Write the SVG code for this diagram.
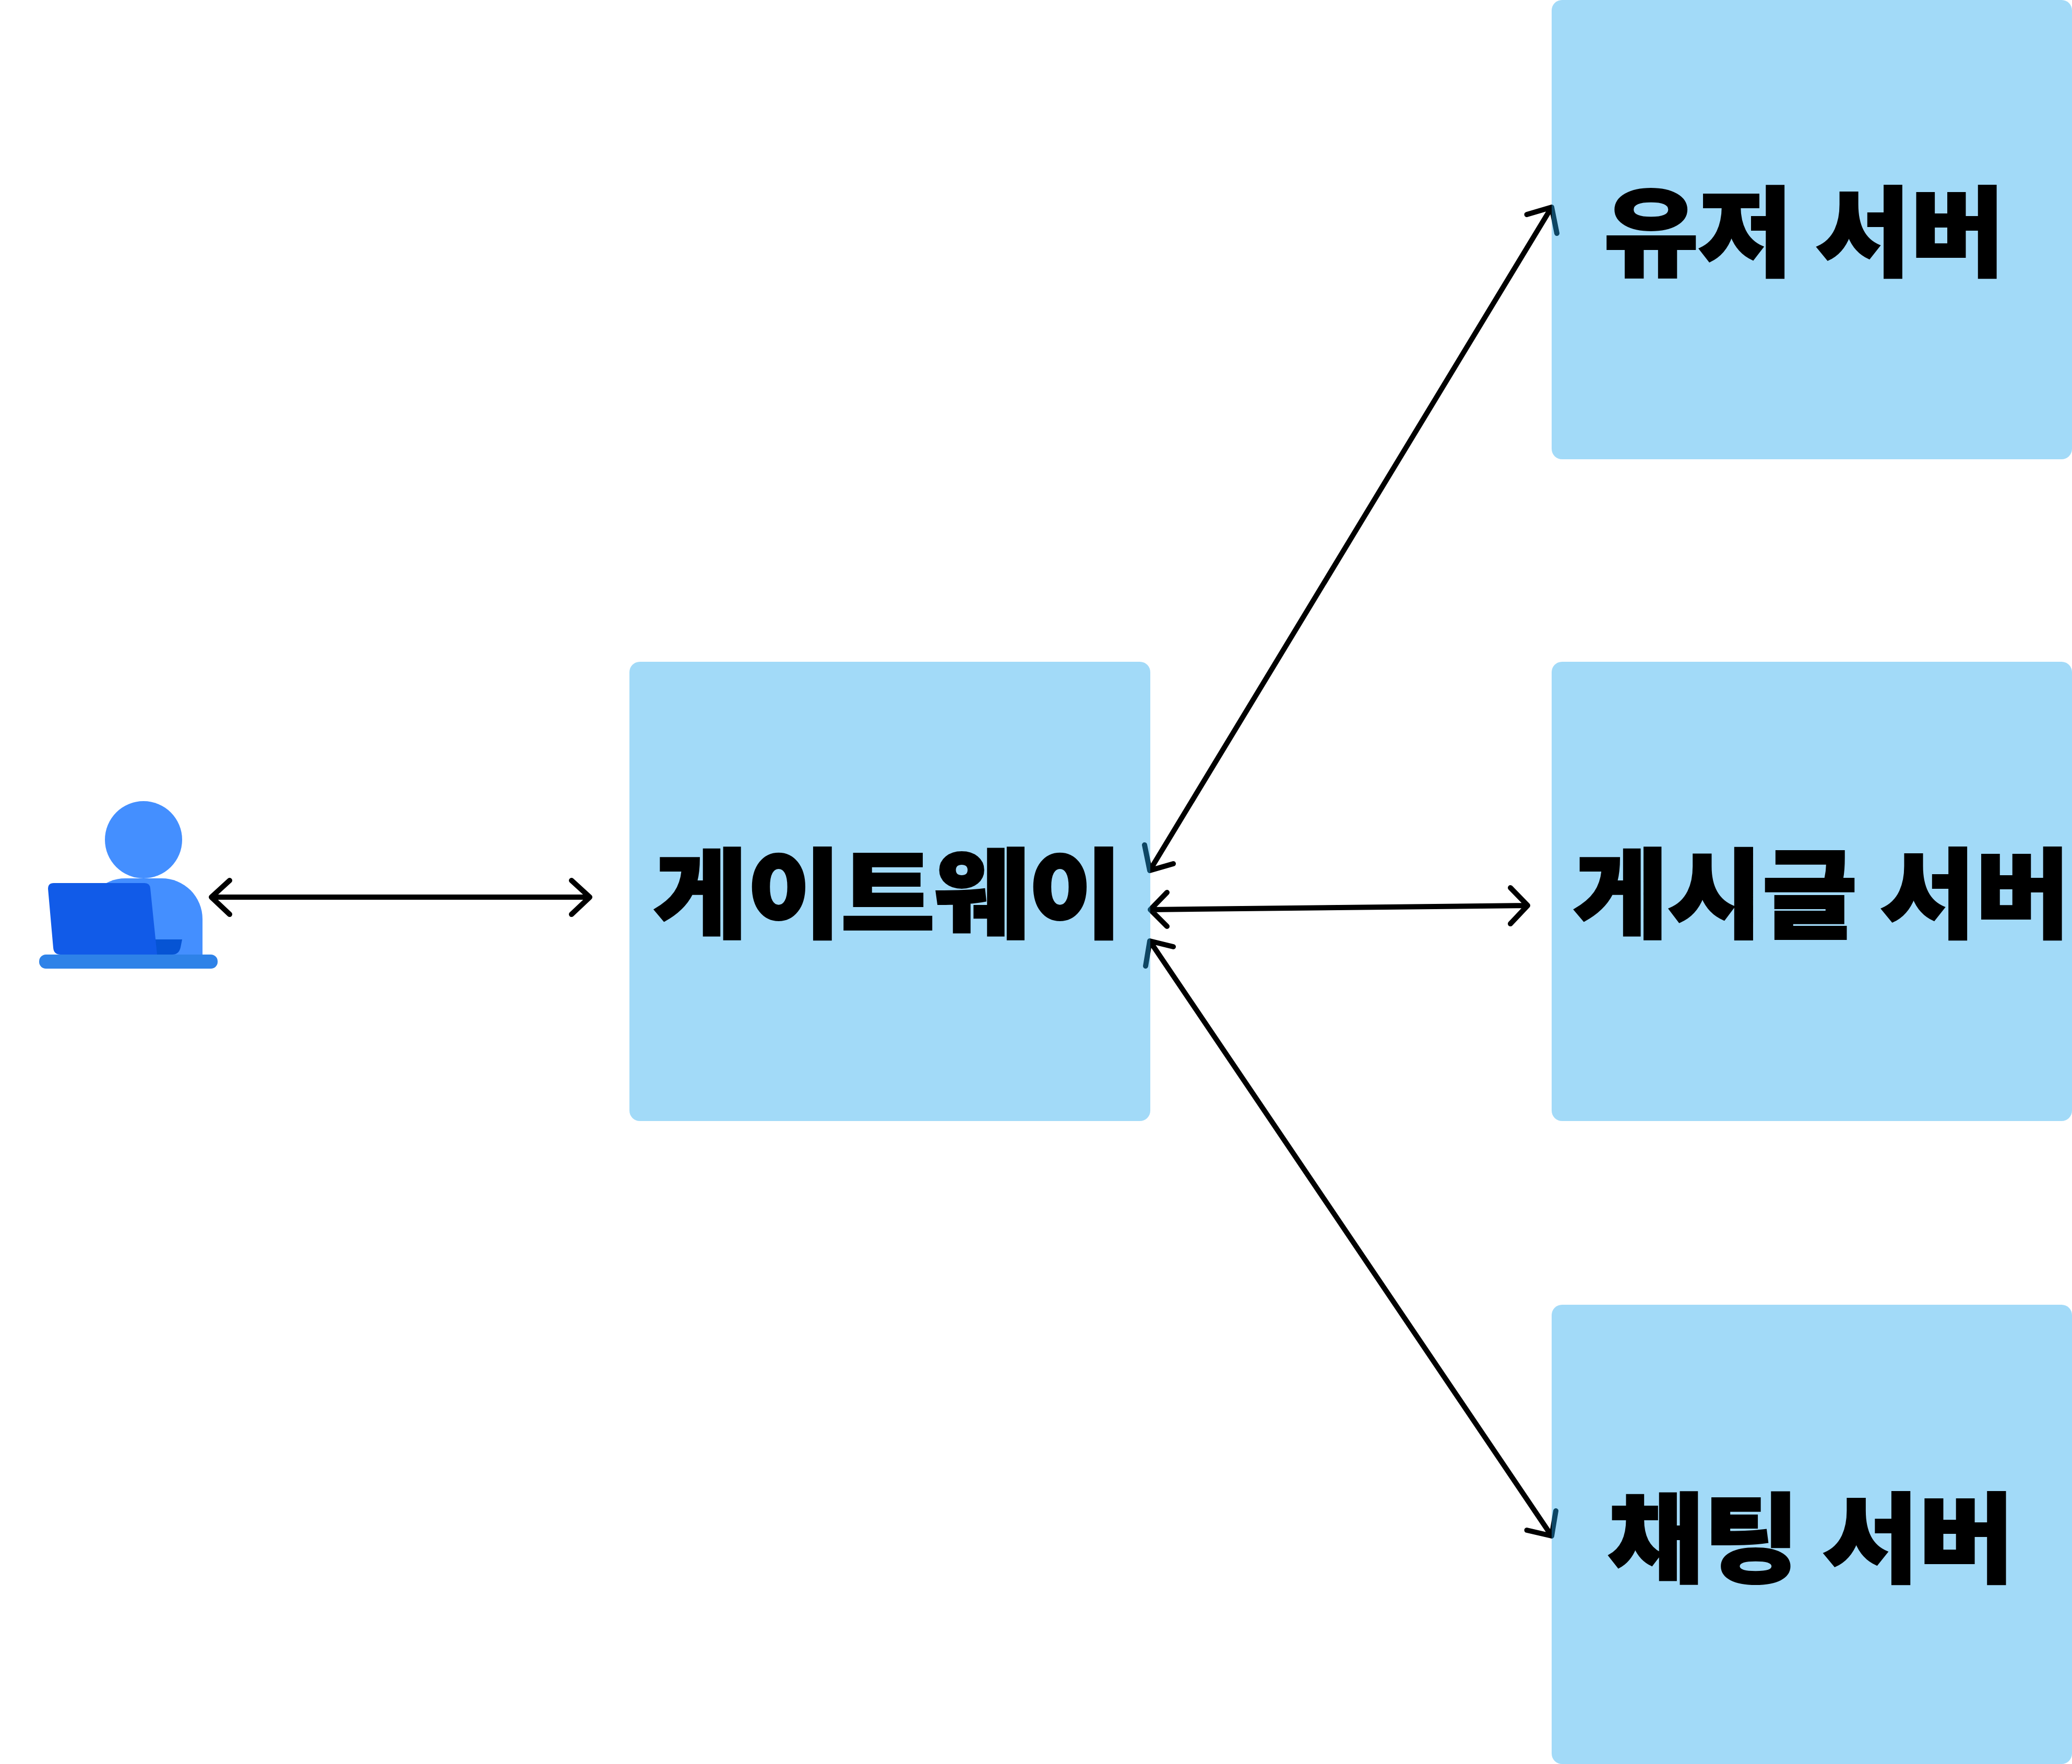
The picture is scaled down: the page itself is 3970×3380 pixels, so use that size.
<svg xmlns="http://www.w3.org/2000/svg" width="3970" height="3380" viewBox="0 0 3970 3380">
<style>
.box{fill:#21a7ee;fill-opacity:.42}
.lbl{font-family:"Noto Sans CJK KR","Noto Sans",sans-serif;font-weight:900;font-size:186px;fill:#000;stroke:#000;stroke-width:4;stroke-linejoin:miter;text-anchor:middle}
.c{fill:none;stroke:#000;stroke-width:10;stroke-linecap:round;stroke-linejoin:round}
</style>
<rect width="3970" height="3380" fill="#fff"/>
<g id="connectors">
<path class="c" d="M405 1719H1130M440 1687L405 1719L440 1752M1095 1687L1130 1719L1095 1752"/>
<path class="c" d="M2203 1668L2973 397M2193 1619L2203 1668L2248 1655M2925.500 411L2973 397L2983 447"/>
<path class="c" d="M2204 1743L2927 1735M2236 1710L2204 1743L2236 1775M2894 1701L2927 1735L2894 1770"/>
<path class="c" d="M2203 1803L2973 2943M2248 1814L2203 1803L2195 1851M2925.500 2932L2973 2943L2981 2895"/>
</g>
<g id="user">
<circle cx="275" cy="1609" r="74" fill="#448fff"/>
<path d="M162 1829V1761A78 78 0 0 1 240 1683H310A78 78 0 0 1 388 1761V1829Z" fill="#448fff"/>
<path d="M297 1800H349L346 1815Q343 1829 330 1829H300Z" fill="#0654d4"/>
<path d="M103 1692H277Q287 1692 288 1702L301 1829H116Q103 1829 102 1816L92 1703Q92 1692 103 1692Z" fill="#115be8"/>
<rect x="75" y="1829" width="342" height="27" rx="13" fill="#2e82e8"/>
</g>
<g id="gateway">
<rect class="box" x="1206" y="1268" width="998" height="880" rx="20"/>
<text class="lbl" transform="translate(1701 1782) scale(1.05 1)">게이트웨이</text>
</g>
<g id="user-server">
<rect class="box" x="2973" y="0" width="997" height="880" rx="20"/>
<text class="lbl" transform="translate(3457 514) scale(1.056 1)">유저 서버</text>
</g>
<g id="post-server">
<rect class="box" x="2973" y="1268" width="997" height="880" rx="20"/>
<text class="lbl" transform="translate(3490 1782) scale(1.06 1)">게시글 서버</text>
</g>
<g id="chat-server">
<rect class="box" x="2973" y="2500" width="997" height="880" rx="20"/>
<text class="lbl" transform="translate(3470 3017) scale(1.07 1)">채팅 서버</text>
</g>
</svg>
